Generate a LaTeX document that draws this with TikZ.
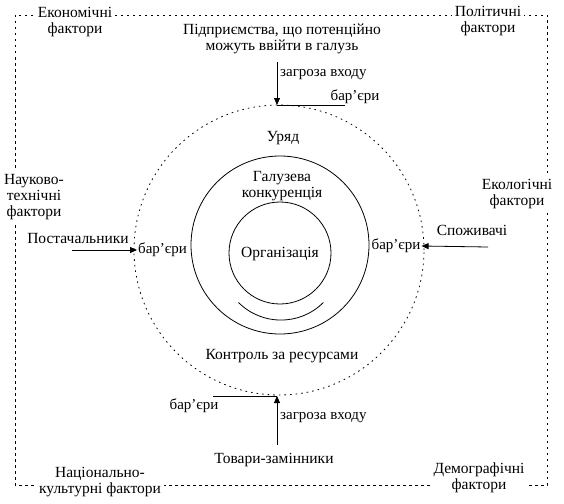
\documentclass[tikz,border=0pt]{standalone}
\usepackage{fontspec}
\setmainfont{Liberation Serif}
\usetikzlibrary{arrows.meta}
\begin{document}
\begin{tikzpicture}[x=1pt,y=-1pt,
  txt/.style={font=\fontsize{15.5}{16}\selectfont, inner sep=1pt, align=center},
  lbl/.style={txt, fill=white, inner sep=3pt},
  small/.style={font=\fontsize{15}{16}\selectfont, inner sep=1pt},
  frame/.style={line width=0.8pt, dash pattern=on 2.5pt off 3.5pt},
  dotc/.style={line width=0.8pt, dash pattern=on 1.6pt off 4pt},
  arr/.style={line width=0.8pt, -{Triangle[length=7pt,width=6pt]}},
  ln/.style={line width=0.8pt}]
\useasboundingbox (0,0) rectangle (564,503);
\fill[white] (0,0) rectangle (564,503);
% frame
\draw[frame] (15,15) rectangle (547,485);
% circles
\node[draw, dotc, circle, minimum size=290pt, inner sep=0pt] (outer) at (279,250) {};
\node[draw, ln, circle, minimum size=178pt, inner sep=0pt] (mid) at (280,245) {};
\node[draw, ln, circle, minimum size=102pt, inner sep=0pt] (inner) at (280,253) {};
\node[txt] (org) at (280,254) {Організація};
\draw[ln] (238.5,302.5) arc[start angle=135, end angle=45, radius=60];
% corner labels
\node[lbl] (econ) at (75,22) {Економічні\\фактори};
\node[lbl] (polit) at (488,21) {Політичні\\фактори};
\node[lbl] (sci) at (34,197) {Науково-\\технічні\\фактори};
\node[lbl] (ecol) at (517,194) {Екологічні\\фактори};
\node[lbl] (nat) at (100,482) {Національно-\\культурні фактори};
\node[lbl] (demo) at (479,478) {Демографічні\\фактори};
% inner texts
\node[txt] (gov) at (283,138) {Уряд};
\node[txt] (comp) at (282,186) {Галузева\\конкуренція};
\node[txt] (ctrl) at (282,356) {Контроль за ресурсами};
% top
\node[txt] (firms) at (282,38.5) {Підприємства, що потенційно\\можуть ввійти в галузь};
\node[small, anchor=west] (thrT) at (279,75) {загроза входу};
\node[small] (barT) at (355,97) {бар’єри};
\coordinate (tA) at (277,62);
\coordinate (tB) at (277,105);
\coordinate (tC) at (345,105);
\draw[arr] (tA) -- (tB);
\draw[ln] (tB) -- (tC);
% left
\node[txt] (supp) at (78,238) {Постачальники};
\node[small, anchor=west] (barL) at (137,250) {бар’єри};
\coordinate (lA) at (72,250);
\draw[arr] (lA) -- (barL.west);
% right
\node[txt] (cons) at (472,230) {Споживачі};
\node[small] (barR) at (396,246) {бар’єри};
\coordinate (rA) at (488,247);
\draw[arr] (rA) -- (barR.east);
% bottom
\node[txt] (subst) at (274,460) {Товари-замінники};
\node[small, anchor=west] (thrB) at (279,418) {загроза входу};
\node[small] (barB) at (194,406) {бар’єри};
\coordinate (bA) at (277,445);
\coordinate (bB) at (277,396);
\coordinate (bC) at (213,396);
\draw[arr] (bA) -- (bB);
\draw[ln] (bB) -- (bC);
\end{tikzpicture}
\end{document}
